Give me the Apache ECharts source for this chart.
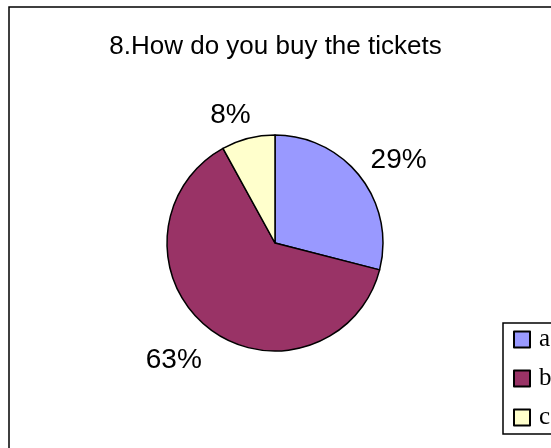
<!DOCTYPE html>
<html>
<head>
	<meta charset="UTF-8">
	<title>tickets</title>
	<script src="https://cdn.jsdelivr.net/npm/echarts@6/dist/echarts.min.js"></script>
	<style>
		body { margin: 0; background: #fff; }
		#main { width: 551px; height: 448px; }
	</style>
</head>
<body>
<div id="main"></div>
<script type="text/javascript">
	// 数据
	var titleText = '8.How do you buy the tickets';
	var categories = ['a', 'b', 'c'];
	var percents = [29, 63, 8];
	var colors = ['#9999FF', '#993366', '#FFFFCC'];

	var myChart = echarts.init(document.getElementById('main'));

	var pieData = [];
	for (var i = 0; i < categories.length; i++) {
		pieData.push({ name: categories[i], value: percents[i], itemStyle: { color: colors[i] } });
	}

	// 标签微调 (像素偏移)
	var labelNudge = [[-9, -5], [9, 18], [12, -6]];

	var option = {
		animation: false,
		backgroundColor: '#fff',
		title: {
			text: titleText,
			left: 'center',
			top: 29,
			textStyle: {
				fontFamily: 'Liberation Sans, Arial',
				fontSize: 26,
				fontWeight: 'normal',
				color: '#000'
			}
		},
		legend: {
			orient: 'vertical',
			left: 503,
			top: 323,
			padding: [4, 20, 4, 10],
			borderColor: '#000',
			borderWidth: 1.5,
			itemWidth: 16,
			itemHeight: 16,
			itemGap: 14,
			icon: 'rect',
			textStyle: {
				fontFamily: 'Liberation Serif, serif',
				fontSize: 25,
				color: '#000',
				padding: [0, 0, 0, 4]
			},
			data: categories
		},
		graphic: [{
			type: 'rect',
			shape: { x: 9, y: 7, width: 600, height: 500 },
			style: { fill: 'none', stroke: '#000', lineWidth: 1.5 },
			silent: true,
			z: -1
		}],
		series: [
			{
				name: 'tickets',
				type: 'pie',
				center: [275, 243],
				radius: 108,
				startAngle: 90,
				clockwise: true,
				itemStyle: {
					borderColor: '#000',
					borderWidth: 1.5
				},
				label: {
					show: true,
					position: 'outside',
					formatter: '{c}%',
					fontFamily: 'Liberation Sans, Arial',
					fontSize: 28,
					color: '#000'
				},
				labelLine: {
					show: false,
					length: 18,
					length2: 0
				},
				labelLayout: function (params) {
					var n = labelNudge[params.dataIndex];
					return { dx: n[0], dy: n[1] };
				},
				emphasis: { disabled: true },
				data: pieData
			}
		]
	};

	myChart.setOption(option);
</script>
</body>
</html>
